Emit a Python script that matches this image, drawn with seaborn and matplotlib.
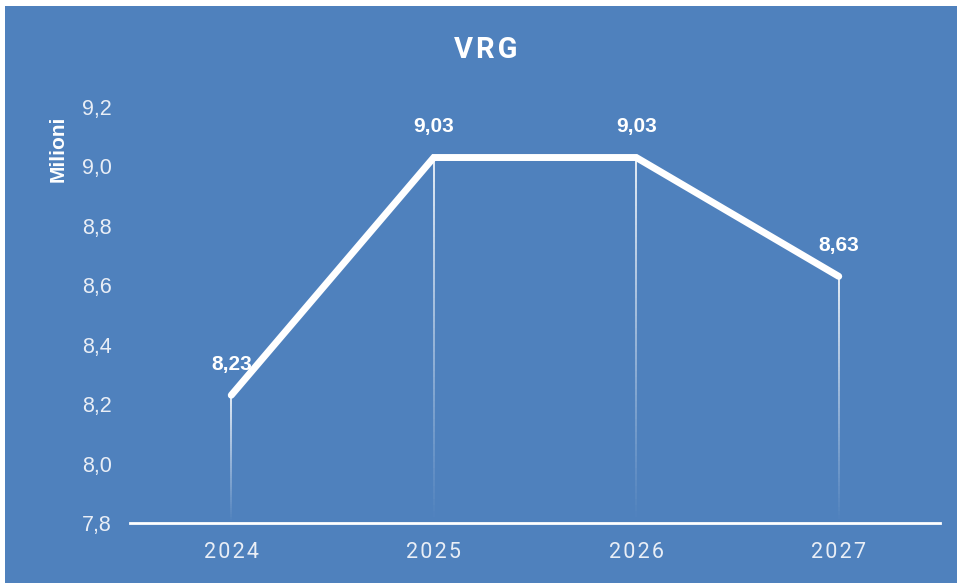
import numpy as np
import pandas as pd
import seaborn as sns
import matplotlib
matplotlib.use("Agg")
import matplotlib.pyplot as plt
from matplotlib.patches import Rectangle
from matplotlib.collections import LineCollection

years = [2024, 2025, 2026, 2027]
values = [8.23, 9.03, 9.03, 8.63]
value_labels = ["8,23", "9,03", "9,03", "8,63"]
yticks = [7.8, 8.0, 8.2, 8.4, 8.6, 8.8, 9.0, 9.2]
ytick_labels = ["7,8", "8,0", "8,2", "8,4", "8,6", "8,8", "9,0", "9,2"]
title = "VRG"
ylabel = "Milioni"

BLUE = "#4F81BD"
W, H = 957, 583

sns.set_style("white")
plt.rcParams["font.family"] = ["Liberation Sans", "DejaVu Sans"]

fig = plt.figure(figsize=(W / 100, H / 100), dpi=100, facecolor="white")
fig.patches.append(Rectangle((5 / W, 0), 1, 1 - 6 / H, transform=fig.transFigure,
                             facecolor=BLUE, edgecolor="none", zorder=-10))

ax = fig.add_axes([130 / W, (H - 523) / H, (940 - 130) / W, (523 - 107) / H])
ax.set_facecolor("none")

df = pd.DataFrame({"year": years, "value": values})

# gradient drop lines
for x, y in zip(years, values):
    n = 60
    ys = np.linspace(y, 7.8, n + 1)
    segs = [[(x, ys[i]), (x, ys[i + 1])] for i in range(n)]
    alphas = np.linspace(0.85, 0.0, n)
    cols = [(1, 1, 1, a) for a in alphas]
    ax.add_collection(LineCollection(segs, colors=cols, linewidths=1.4, zorder=2))

sns.lineplot(data=df, x="year", y="value", ax=ax, color="white", linewidth=5,
             solid_capstyle="round", solid_joinstyle="miter", zorder=3)

for x, y, lab in zip(years, values, value_labels):
    ax.annotate(lab, (x, y), xytext=(0, 31), textcoords="offset pixels",
                ha="center", va="center", color="white", fontsize=15,
                fontweight="bold", zorder=4)

ax.set_xlim(years[0] - 0.5, years[-1] + 0.5)
ax.set_ylim(7.8, 9.2)
ax.set_yticks(yticks)
ax.set_yticklabels(ytick_labels, color="#e9eef6", fontsize=15.5)
ax.set_xticks(years)
ax.set_xticklabels(["\u200a".join(str(y)) for y in years], color="#e9eef6",
                   fontsize=15.5, family=["Roboto", "DejaVu Sans"])
ax.tick_params(axis="both", length=0)
ax.tick_params(axis="y", pad=13)
ax.tick_params(axis="x", pad=14)
ax.set_xlabel("")
ax.set_ylabel("")
for s in ["top", "right", "left"]:
    ax.spines[s].set_visible(False)
ax.spines["bottom"].set_color("white")
ax.spines["bottom"].set_linewidth(2)
ax.grid(False)

fig.text(486 / W, 1 - 50 / H, "\u200a".join(title), ha="center", va="center",
         color="white", fontsize=21, fontweight="bold", family=["Roboto", "DejaVu Sans"])
fig.text(58 / W, 1 - 149 / H, ylabel, ha="center", va="center", rotation=90,
         color="white", fontsize=15, fontweight="bold")

fig.savefig("out.png", dpi=100, facecolor="white")
